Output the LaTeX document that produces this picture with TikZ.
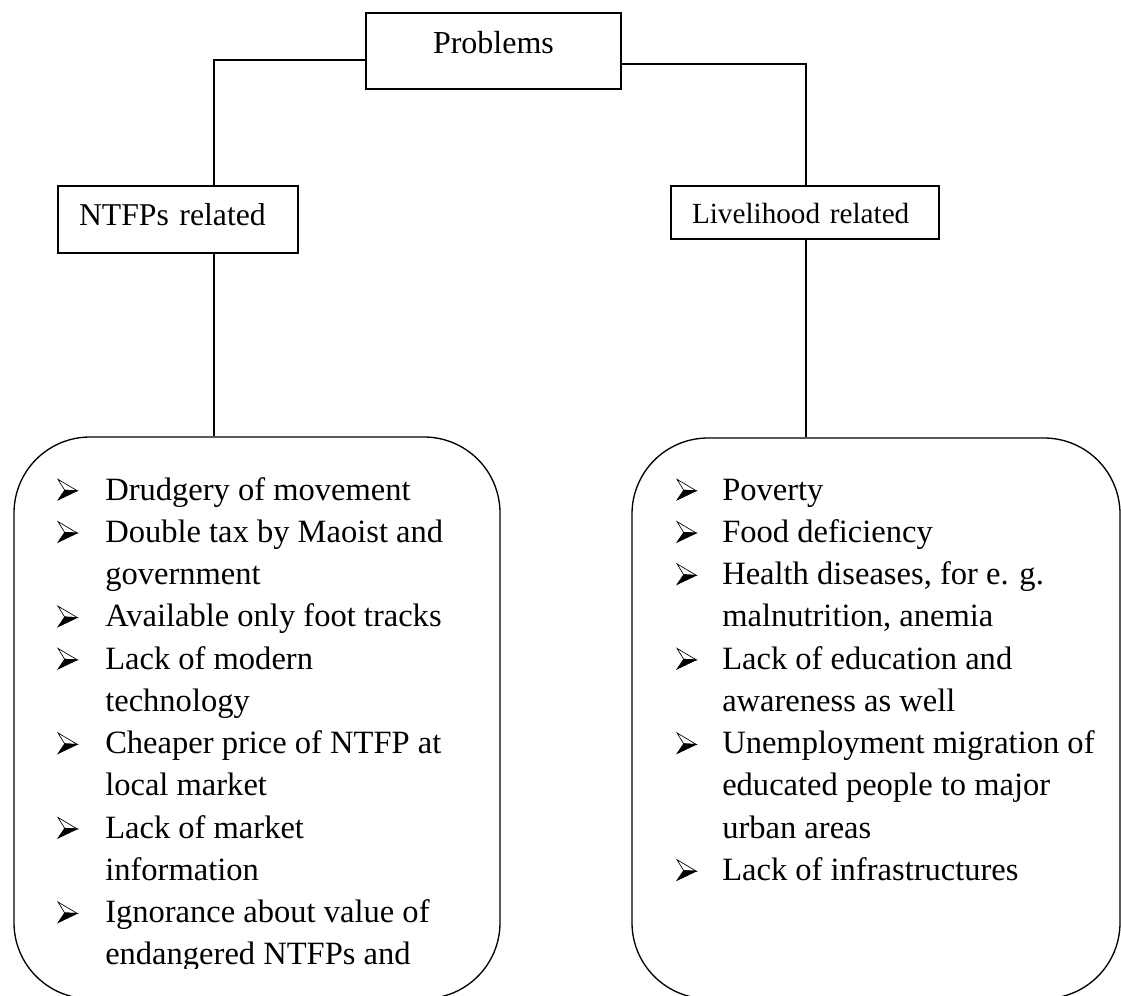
\documentclass[tikz,border=0pt]{standalone}
\usepackage{fontspec}
\setmainfont{Liberation Serif}
\begin{document}
\begin{tikzpicture}[x=1pt,y=1pt,
  box/.style={draw,line width=1pt,inner ysep=0pt},
  roundbox/.style={draw,line width=1pt,inner sep=0pt,rounded corners=57pt},
  conn/.style={draw,line width=1pt},
  listtext/.style={anchor=base west,inner sep=0pt},
  arrowbul/.pic={
    \filldraw[fill=white,line width=0.5pt,line join=miter] (0,15.5) -- (14.5,6.9) -- (5,7.4) -- cycle;
    \filldraw[fill=black,line width=0.5pt,line join=miter] (0,0) -- (14.5,6.9) -- (5,7.4) -- cycle;
  }]
\useasboundingbox (0,0) rectangle (840.75,-747);
\clip (0,0) rectangle (840.75,-747);

% level boxes
\node[box,inner xsep=0pt,minimum width=191.25pt,minimum height=57pt,
      text height=17pt,text depth=14pt,font=\fontsize{24}{28}\selectfont]
      (prob) at (370.1,-38.25) {Problems};
\node[box,inner xsep=15.75pt,text width=148.5pt,align=left,minimum height=50.25pt,
      text height=18.3pt,text depth=10pt,font=\fontsize{23.8}{28}\selectfont]
      (ntfp) at (133.5,-164.6) {NTFPs related};
\node[box,inner xsep=15.75pt,text width=169.5pt,align=left,minimum height=39.75pt,
      text height=17pt,text depth=1.3pt,font=\fontsize{21.9}{26}\selectfont]
      (live) at (603.75,-159.4) {Livelihood related};

% rounded list boxes
\node[roundbox,minimum width=364.5pt,minimum height=421.25pt] (lrb) at (192.75,-538.375) {};
\node[roundbox,minimum width=366pt,minimum height=420.5pt] (rrb) at (657,-538.75) {};

% connectors
\coordinate (lj) at (160.5,-45);
\coordinate (rj) at (604.5,-48);
\draw[conn] (prob.west |- lj) -- (lj) -- (lj |- ntfp.north);
\draw[conn] (prob.east |- rj) -- (rj) -- (rj |- live.north);
\draw[conn] (lj |- ntfp.south) -- (lj |- lrb.north);
\draw[conn] (rj |- live.south) -- (rj |- rrb.north);

% bullets
\foreach \n in {0,1,3,4,6,8,10} \pic at (43.5,{-375-31.7*\n}) {arrowbul};
\foreach \n in {0,1,2,4,6,9} \pic at (507.75,{-375-31.7*\n}) {arrowbul};

% list texts
\begin{scope}
\clip (0,0) rectangle (840.75,-726);
\node[listtext] (ltxt) at (78.75,-375) {\parbox[t]{300pt}{%
\fontsize{24.4pt}{31.7pt}\selectfont\raggedright
Drudgery of movement\\
Double tax by Maoist and\\
government\\
Available only foot tracks\\
Lack of modern\\
technology\\
Cheaper price of NTFP at\\
local market\\
Lack of market\\
information\\
Ignorance about value of\\
endangered NTFPs and}};
\end{scope}
\node[listtext] (rtxt) at (541.5,-375) {\parbox[t]{295pt}{%
\fontsize{24.4pt}{31.7pt}\selectfont\raggedright
Poverty\\
Food deficiency\\
Health diseases, for e. g.\\
malnutrition, anemia\\
Lack of education and\\
awareness as well\\
Unemployment migration of\\
educated people to major\\
urban areas\\
Lack of infrastructures}};
\end{tikzpicture}
\end{document}
